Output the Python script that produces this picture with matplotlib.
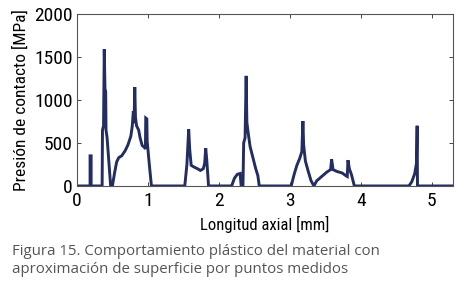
import matplotlib
matplotlib.use('Agg')
import matplotlib.pyplot as plt
from matplotlib import font_manager

# longitud axial [mm] vs presion de contacto [MPa]
x_mm = [0.0, 0.185, 0.185, 0.20, 0.20, 0.355, 0.36, 0.375, 0.385, 0.395, 0.405, 0.41, 0.425, 0.475,
        0.50, 0.53, 0.56, 0.59, 0.63, 0.68, 0.72, 0.76, 0.78, 0.795, 0.805, 0.815, 0.825, 0.84, 0.87,
        0.89, 0.92, 0.95, 0.965, 0.97, 0.985, 0.99, 1.02, 1.05,
        1.52, 1.55, 1.575, 1.59, 1.61, 1.65, 1.70, 1.74, 1.78, 1.80, 1.815, 1.83, 1.855,
        2.18, 2.22, 2.26, 2.30, 2.315, 2.34, 2.35, 2.37, 2.385, 2.395, 2.41, 2.44, 2.48, 2.52, 2.55, 2.57,
        3.02, 3.06, 3.10, 3.14, 3.17, 3.185, 3.195, 3.22, 3.26, 3.30, 3.34, 3.38, 3.45, 3.52, 3.575,
        3.59, 3.61, 3.66, 3.74, 3.79, 3.81, 3.82, 3.84, 3.87, 3.91,
        4.68, 4.72, 4.76, 4.785, 4.795, 4.80, 5.3]
p_mpa = [0, 0, 350, 350, 0, 0, 650, 700, 1590, 1130, 1100, 650, 560, 0,
         0, 150, 280, 330, 350, 410, 480, 580, 700, 870, 730, 1150, 800, 700, 650,
         560, 470, 450, 430, 790, 780, 520, 250, 0,
         0, 250, 660, 420, 240, 220, 200, 180, 200, 260, 440, 300, 0,
         0, 90, 135, 145, 0, 0, 500, 560, 1280, 740, 640, 460, 330, 200, 120, 0,
         0, 130, 240, 320, 400, 755, 480, 290, 170, 60, 0, 60, 110, 160, 190,
         310, 190, 170, 150, 120, 110, 300, 200, 130, 0,
         0, 50, 140, 260, 700, 0, 0]

xticks = [0, 1, 2, 3, 4, 5]
yticks = [0, 500, 1000, 1500, 2000]

# look for some narrow face, the original uses a condensed font
names = {f.name for f in font_manager.fontManager.ttflist}
cond = {(f.name, f.stretch) for f in font_manager.fontManager.ttflist}
narrow, stretch, tsize, lsize = ['DejaVu Sans'], 'normal', 11, 11
for cand in ['Roboto Condensed', 'Liberation Sans Narrow', 'Open Sans Condensed', 'Noto Sans Condensed']:
    if cand in names:
        narrow, stretch, tsize, lsize = [cand, 'DejaVu Sans'], 'normal', 14, 12.5
        break
else:
    if ('DejaVu Sans', 'condensed') in cond or ('DejaVu Sans', 'semi-condensed') in cond:
        narrow, stretch, tsize, lsize = ['DejaVu Sans'], 'condensed', 12.5, 12

fig = plt.figure(figsize=(4.58, 2.91), dpi=100)
ax = fig.add_axes([0.168, 0.361, 0.821, 0.591])
ax.plot(x_mm, p_mpa, color='#232d62', linewidth=2.1, solid_joinstyle='miter')

ax.set_xlim(0, 5.3)
ax.set_ylim(0, 2000)
ax.set_xticks(xticks)
ax.set_yticks(yticks)
ax.tick_params(direction='in', top=True, right=True, length=3, width=0.7, colors='#444444',
               labelcolor='black', labelsize=tsize, pad=3)
ax.tick_params(axis='x', pad=4)
for lab in ax.get_xticklabels() + ax.get_yticklabels():
    lab.set_family(narrow)
    lab.set_fontstretch(stretch)
for s in ax.spines.values():
    s.set_linewidth(0.8)
    s.set_color('#555555')

ax.set_xlabel('Longitud axial [mm]', family=narrow, fontstretch=stretch, fontsize=lsize - 0.5, labelpad=5)
ax.set_ylabel('Presión de contacto [MPa]', family=narrow, fontstretch=stretch, fontsize=lsize,
              labelpad=4)

fig.text(0.026, 0.105, 'Figura 15. Comportamiento plástico del material con\n'
         'aproximación de superficie por puntos medidos',
         family=['Open Sans', 'DejaVu Sans'], fontsize=10.8, color='#555555',
         va='center', ha='left', linespacing=1.25)

fig.savefig('out.png', dpi=100)
